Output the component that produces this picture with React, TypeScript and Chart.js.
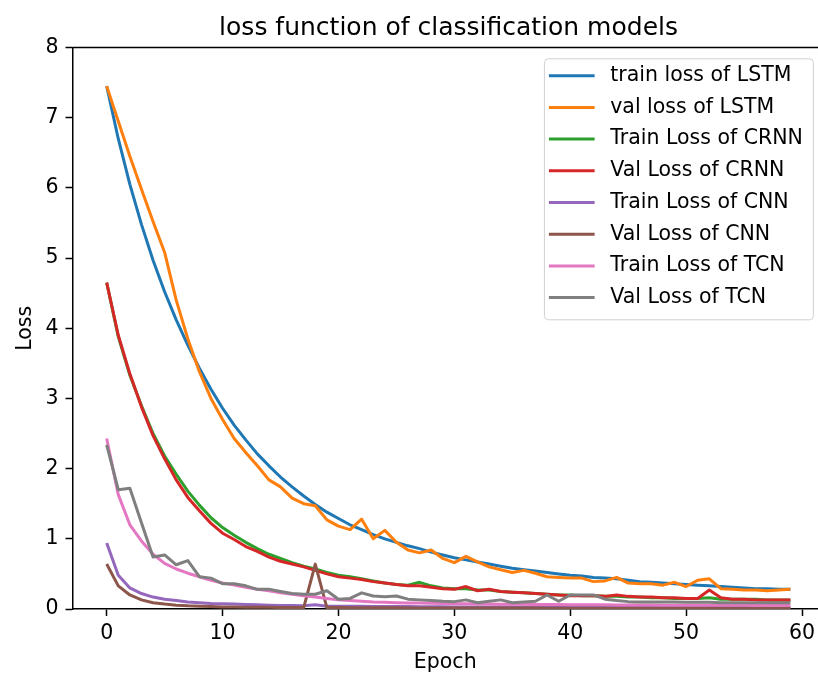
import { useEffect, useRef } from "react";
import { Chart, registerables } from "chart.js";

Chart.register(...registerables);

const TITLE = "loss function of classification models";
const X_LABEL = "Epoch";
const Y_LABEL = "Loss";

const epochs = Array.from({ length: 60 }, (_, i) => i);

const lstmTrain = [
  7.45, 6.7, 6.05, 5.48, 4.97, 4.52, 4.12, 3.76, 3.43, 3.13,
  2.86, 2.62, 2.41, 2.21, 2.04, 1.88, 1.74, 1.61, 1.49, 1.38,
  1.29, 1.2, 1.13, 1.06, 1.0, 0.95, 0.9, 0.86, 0.81, 0.77,
  0.73, 0.7, 0.67, 0.64, 0.61, 0.58, 0.56, 0.54, 0.52, 0.5,
  0.48, 0.47, 0.45, 0.44, 0.43, 0.41, 0.39, 0.38, 0.37, 0.36,
  0.35, 0.34, 0.33, 0.32, 0.31, 0.3, 0.29, 0.29, 0.28, 0.28,
];
const lstmVal = [
  7.45, 6.95, 6.45, 5.98, 5.52, 5.08, 4.4, 3.85, 3.38, 3.0,
  2.7, 2.43, 2.23, 2.04, 1.84, 1.74, 1.58, 1.5, 1.47, 1.27,
  1.18, 1.13, 1.28, 1.0, 1.12, 0.95, 0.84, 0.8, 0.84, 0.72,
  0.66, 0.75, 0.67, 0.6, 0.56, 0.52, 0.55, 0.51, 0.46, 0.45,
  0.44, 0.44, 0.39, 0.4, 0.45, 0.37, 0.36, 0.36, 0.34, 0.38,
  0.32, 0.41, 0.43, 0.29, 0.28, 0.27, 0.27, 0.26, 0.27, 0.28,
];
const crnnTrain = [
  4.65, 3.88, 3.33, 2.9, 2.5, 2.18, 1.92, 1.68, 1.48, 1.3,
  1.16, 1.05, 0.95, 0.86, 0.78, 0.72, 0.66, 0.61, 0.57, 0.52,
  0.48, 0.46, 0.43, 0.4, 0.37, 0.35, 0.34, 0.38, 0.33, 0.3,
  0.29, 0.29, 0.27, 0.27, 0.25, 0.24, 0.23, 0.22, 0.21, 0.2,
  0.2, 0.19, 0.19, 0.18, 0.18, 0.17, 0.17, 0.16, 0.16, 0.15,
  0.15, 0.15, 0.16, 0.14, 0.14, 0.14, 0.14, 0.13, 0.13, 0.13,
];
const crnnVal = [
  4.65, 3.9, 3.35, 2.88, 2.47, 2.14, 1.84, 1.59, 1.4, 1.22,
  1.08, 0.99, 0.89, 0.82, 0.74, 0.68, 0.64, 0.6, 0.55, 0.5,
  0.46, 0.44, 0.42, 0.39, 0.37, 0.35, 0.33, 0.33, 0.31, 0.29,
  0.28, 0.32, 0.26, 0.28, 0.25, 0.24, 0.23, 0.22, 0.21, 0.2,
  0.19, 0.19, 0.19, 0.18, 0.2, 0.18, 0.17, 0.17, 0.16, 0.16,
  0.15, 0.15, 0.27, 0.16, 0.14, 0.14, 0.13, 0.13, 0.13, 0.13,
];
const cnnTrain = [
  0.94, 0.48, 0.3, 0.22, 0.17, 0.14, 0.12, 0.1, 0.09, 0.08,
  0.075, 0.07, 0.065, 0.06, 0.055, 0.05, 0.05, 0.045, 0.06, 0.04,
  0.04, 0.04, 0.038, 0.037, 0.036, 0.035, 0.034, 0.033, 0.032, 0.031,
  0.03, 0.03, 0.029, 0.028, 0.028, 0.027, 0.027, 0.026, 0.026, 0.025,
  0.025, 0.024, 0.024, 0.023, 0.023, 0.023, 0.022, 0.022, 0.022, 0.021,
  0.021, 0.021, 0.02, 0.02, 0.02, 0.02, 0.019, 0.019, 0.019, 0.019,
];
const cnnVal = [
  0.64, 0.33, 0.2, 0.13, 0.09, 0.07, 0.055, 0.045, 0.04, 0.035,
  0.03, 0.028, 0.026, 0.025, 0.024, 0.023, 0.022, 0.02, 0.64, 0.02,
  0.02, 0.019, 0.018, 0.018, 0.017, 0.017, 0.016, 0.016, 0.015, 0.015,
  0.015, 0.014, 0.014, 0.014, 0.013, 0.013, 0.013, 0.013, 0.012, 0.012,
  0.012, 0.012, 0.011, 0.011, 0.011, 0.011, 0.011, 0.01, 0.01, 0.01,
  0.01, 0.01, 0.01, 0.01, 0.01, 0.01, 0.01, 0.01, 0.01, 0.01,
];
const tcnTrain = [
  2.43, 1.63, 1.2, 0.97, 0.78, 0.65, 0.57, 0.51, 0.46, 0.41,
  0.37, 0.34, 0.31, 0.28, 0.26, 0.23, 0.21, 0.19, 0.17, 0.15,
  0.13, 0.12, 0.11, 0.1, 0.095, 0.09, 0.087, 0.084, 0.081, 0.078,
  0.076, 0.074, 0.072, 0.07, 0.068, 0.067, 0.066, 0.065, 0.064, 0.063,
  0.062, 0.061, 0.06, 0.059, 0.058, 0.057, 0.056, 0.056, 0.055, 0.055,
  0.054, 0.054, 0.053, 0.053, 0.052, 0.052, 0.051, 0.051, 0.05, 0.05,
];
const tcnVal = [
  2.34, 1.7, 1.72, 1.23, 0.74, 0.77, 0.63, 0.69, 0.46, 0.44,
  0.36, 0.36, 0.33, 0.28, 0.28, 0.25, 0.22, 0.21, 0.21, 0.26,
  0.14, 0.15, 0.23, 0.185, 0.175, 0.185, 0.14, 0.13, 0.12, 0.11,
  0.105, 0.13, 0.09, 0.11, 0.13, 0.09, 0.1, 0.11, 0.2, 0.11,
  0.2, 0.2, 0.2, 0.14, 0.12, 0.105, 0.1, 0.1, 0.1, 0.1,
  0.095, 0.095, 0.095, 0.09, 0.09, 0.09, 0.09, 0.09, 0.09, 0.09,
];

const seriesLabels = [
  "train loss of LSTM",
  "val loss of LSTM",
  "Train Loss of CRNN",
  "Val Loss of CRNN",
  "Train Loss of CNN",
  "Val Loss of CNN",
  "Train Loss of TCN",
  "Val Loss of TCN",
];
const seriesColors = [
  "#1f77b4", "#ff7f0e", "#2ca02c", "#d62728",
  "#9467bd", "#8c564b", "#e377c2", "#7f7f7f",
];

const xTicks = [0, 10, 20, 30, 40, 50, 60];
const yTicks = [0, 1, 2, 3, 4, 5, 6, 7, 8];
const X_MIN = -2.95;
const X_MAX = 61.38; // the page cuts the axes just before matplotlib's right margin
const Y_MIN = 0;
const Y_MAX = 8;

const FONT = '"DejaVu Sans", sans-serif';
const CANVAS_W = 818;
const CANVAS_H = 673;

const framePlugin = {
  id: "frame",
  afterDraw(chart: any) {
    const { ctx, chartArea: a } = chart;
    ctx.save();
    // top spine
    ctx.strokeStyle = "#000";
    ctx.lineWidth = 1.5;
    ctx.beginPath();
    ctx.moveTo(a.left, a.top);
    ctx.lineTo(CANVAS_W, a.top);
    ctx.stroke();

    // title, centred on the full (uncropped) axes width
    const fullRight = chart.scales.x.getPixelForValue(61.95);
    ctx.fillStyle = "#000";
    ctx.font = `25px ${FONT}`;
    ctx.textAlign = "center";
    ctx.textBaseline = "alphabetic";
    ctx.fillText(TITLE, (a.left + fullRight) / 2, a.top - 12.5);

    // legend
    ctx.font = `20.5px ${FONT}`;
    const ds = chart.data.datasets;
    const textW = Math.max(...ds.map((d: any) => ctx.measureText(d.label).width));
    const boxW = 5 + 45.7 + 15.6 + textW + 10;
    const right = fullRight - 11.7;
    const top = a.top + 10.8;
    const left = right - boxW;
    const boxH = 261;
    ctx.beginPath();
    if ((ctx as any).roundRect) {
      (ctx as any).roundRect(left + 0.5, top + 0.5, boxW, boxH, 4);
    } else {
      ctx.rect(left + 0.5, top + 0.5, boxW, boxH);
    }
    ctx.fillStyle = "rgba(255,255,255,0.8)";
    ctx.fill();
    ctx.strokeStyle = "#d0d0d0";
    ctx.lineWidth = 1;
    ctx.stroke();
    ds.forEach((d: any, i: number) => {
      const y = top + 17.4 + 31.7 * i;
      ctx.strokeStyle = d.borderColor;
      ctx.lineWidth = 3;
      ctx.beginPath();
      ctx.moveTo(left + 5, y);
      ctx.lineTo(left + 50.7, y);
      ctx.stroke();
      ctx.fillStyle = "#000";
      ctx.textAlign = "left";
      ctx.textBaseline = "middle";
      ctx.fillText(d.label, left + 66.3, y);
    });
    ctx.restore();
  },
};

export default function App() {
  const ref = useRef<HTMLCanvasElement>(null);
  useEffect(() => {
    const series = [lstmTrain, lstmVal, crnnTrain, crnnVal, cnnTrain, cnnVal, tcnTrain, tcnVal];
    const tickFont = { family: FONT, size: 20.5 };
    const gridOpts = {
      display: true,
      drawOnChartArea: false,
      drawTicks: true,
      tickLength: 7,
      tickWidth: 1.5,
      tickColor: "#000",
      color: "#000",
    };
    const chart = new Chart(ref.current!, {
      type: "line",
      data: {
        datasets: series.map((vals, i) => ({
          label: seriesLabels[i],
          data: vals.map((v, j) => ({ x: epochs[j], y: v })),
          borderColor: seriesColors[i],
          backgroundColor: seriesColors[i],
          borderWidth: 3,
          pointRadius: 0,
          tension: 0,
          fill: false,
          borderJoinStyle: "round",
          order: series.length - i,
        })),
      },
      options: {
        animation: false,
        responsive: false,
        layout: { padding: { top: 47.5, right: 0, left: 0, bottom: 0 } },
        plugins: {
          legend: { display: false },
          tooltip: { enabled: false },
          title: { display: false },
        },
        scales: {
          x: {
            type: "linear",
            min: X_MIN,
            max: X_MAX,
            afterBuildTicks: (s: any) => {
              s.ticks = xTicks.map((v) => ({ value: v }));
            },
            afterFit: (s: any) => {
              s.height = CANVAS_H - 609;
              s.paddingRight = 0;
            },
            ticks: { color: "#000", font: tickFont, padding: 5, maxRotation: 0, autoSkip: false },
            grid: gridOpts,
            border: { display: true, color: "#000", width: 1.5 },
            title: {
              display: true,
              text: X_LABEL,
              color: "#000",
              font: tickFont,
              padding: { top: 0, bottom: -2 },
            },
          },
          y: {
            type: "linear",
            min: Y_MIN,
            max: Y_MAX,
            afterBuildTicks: (s: any) => {
              s.ticks = yTicks.map((v) => ({ value: v }));
            },
            afterFit: (s: any) => {
              s.width = 72.5;
            },
            ticks: { color: "#000", font: tickFont, padding: 7 },
            grid: gridOpts,
            border: { display: true, color: "#000", width: 1.5 },
            title: {
              display: true,
              text: Y_LABEL,
              color: "#000",
              font: tickFont,
              padding: { top: 13, bottom: 0 },
            },
          },
        },
      },
      plugins: [framePlugin],
    } as any);
    return () => chart.destroy();
  }, []);
  return (
    <div
      style={{
        position: "absolute",
        left: 0,
        top: 0,
        width: 818,
        height: 673,
        overflow: "hidden",
        background: "#fff",
      }}
    >
      <canvas ref={ref} width={CANVAS_W} height={CANVAS_H} style={{ display: "block" }} />
    </div>
  );
}
